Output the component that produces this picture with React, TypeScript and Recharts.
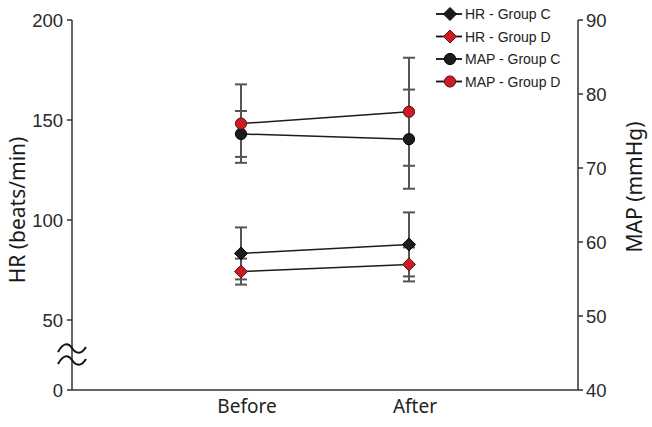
import { LineChart, Line, XAxis, YAxis, ErrorBar } from 'recharts';

const categories = ['Before', 'After'];
const hrGroupC = [83.3, 87.8];
const hrGroupCSd = [13, 16];
const hrGroupD = [74.2, 77.8];
const hrGroupDSd = [6.5, 8.5];
const mapGroupC = [74.6, 73.9];
const mapGroupCSd = [3.1, 6.7];
const mapGroupD = [76.0, 77.6];
const mapGroupDSd = [5.3, 7.3];

// left axis is broken between 0 and 50; the "0" tick sits at 15 on the linear scale
const hrTicks = [15, 50, 100, 150, 200];
const mapTicks = [40, 50, 60, 70, 80, 90];

const BLACK = '#1c1c1c';
const RED = '#cc1b24';
const RED_EDGE = '#5a1014';

const data = categories.map((name, i) => ({
  name,
  hrC: hrGroupC[i],
  hrCSd: hrGroupCSd[i],
  hrD: hrGroupD[i],
  hrDSd: hrGroupDSd[i],
  mapC: mapGroupC[i],
  mapCSd: mapGroupCSd[i],
  mapD: mapGroupD[i],
  mapDSd: mapGroupDSd[i],
}));

const legendItems = [
  { label: 'HR - Group C', shape: 'diamond', fill: BLACK, edge: '#000' },
  { label: 'HR - Group D', shape: 'diamond', fill: RED, edge: RED_EDGE },
  { label: 'MAP - Group C', shape: 'circle', fill: BLACK, edge: '#000' },
  { label: 'MAP - Group D', shape: 'circle', fill: RED, edge: RED_EDGE },
];

function Marker({ shape, cx, cy, fill, edge }: any) {
  if (shape === 'diamond') {
    const r = 6.5;
    return (
      <polygon
        points={`${cx},${cy - r} ${cx + r},${cy} ${cx},${cy + r} ${cx - r},${cy}`}
        fill={fill}
        stroke={edge}
        strokeWidth={1}
      />
    );
  }
  return <circle cx={cx} cy={cy} r={5.6} fill={fill} stroke={edge} strokeWidth={1} />;
}

const dotFor = (shape: string, fill: string, edge: string) => (p: any) => (
  <Marker key={`${shape}-${fill}-${p.index}`} shape={shape} cx={p.cx} cy={p.cy} fill={fill} edge={edge} />
);

function AxisTitle({ px, py, text }: any) {
  return (
    <text
      x={px}
      y={py}
      transform={`rotate(-90 ${px} ${py})`}
      textAnchor="middle"
      dominantBaseline="central"
      fontSize={21}
      fontFamily="'Noto Sans', sans-serif"
      fill="#1a1a1a"
    >
      {text}
    </text>
  );
}

export default function App() {
  const tickStyle = { fontSize: 18.5, fill: '#2a2a2a' };
  return (
    <div
      style={{
        position: 'absolute',
        left: 0,
        top: 0,
        width: 652,
        height: 427,
        background: '#fff',
        fontFamily: "'Liberation Sans', Arial, sans-serif",
      }}
    >
      <LineChart width={652} height={427} data={data} margin={{ top: 20, right: 14, bottom: 7, left: 12 }}>
        <XAxis
          dataKey="name"
          height={30}
          padding={{ left: 169, right: 169 }}
          tickLine={false}
          tickSize={0}
          tickMargin={10}
          axisLine={{ stroke: '#333', strokeWidth: 1.5 }}
          tick={{ fontSize: 19, fill: '#222', fontFamily: "'Noto Sans', sans-serif", dx: 6 }}
        />
        <YAxis
          yAxisId="hr"
          domain={[15, 200]}
          ticks={hrTicks}
          tickFormatter={(v: number) => (v === 15 ? '0' : String(v))}
          width={60}
          tickSize={5}
          tickMargin={4}
          allowDataOverflow
          axisLine={{ stroke: '#333', strokeWidth: 1.5 }}
          tickLine={{ stroke: '#333', strokeWidth: 1.5 }}
          tick={tickStyle}
          label={<AxisTitle px={17} py={210} text="HR (beats/min)" />}
        />
        <YAxis
          yAxisId="map"
          orientation="right"
          domain={[40, 90]}
          ticks={mapTicks}
          width={60}
          tickSize={5}
          tickMargin={3}
          axisLine={{ stroke: '#333', strokeWidth: 1.5 }}
          tickLine={{ stroke: '#333', strokeWidth: 1.5 }}
          tick={tickStyle}
          label={<AxisTitle px={634} py={187} text="MAP (mmHg)" />}
        />
        <Line
          yAxisId="map"
          dataKey="mapC"
          stroke={BLACK}
          strokeWidth={1.5}
          dot={dotFor('circle', BLACK, '#000')}
          isAnimationActive={false}
        >
          <ErrorBar dataKey="mapCSd" width={6} stroke="#555" strokeWidth={2} direction="y" />
        </Line>
        <Line
          yAxisId="map"
          dataKey="mapD"
          stroke={BLACK}
          strokeWidth={1.5}
          dot={dotFor('circle', RED, RED_EDGE)}
          isAnimationActive={false}
        >
          <ErrorBar dataKey="mapDSd" width={6} stroke="#555" strokeWidth={2} direction="y" />
        </Line>
        <Line
          yAxisId="hr"
          dataKey="hrC"
          stroke={BLACK}
          strokeWidth={1.5}
          dot={dotFor('diamond', BLACK, '#000')}
          isAnimationActive={false}
        >
          <ErrorBar dataKey="hrCSd" width={6} stroke="#555" strokeWidth={2} direction="y" />
        </Line>
        <Line
          yAxisId="hr"
          dataKey="hrD"
          stroke={BLACK}
          strokeWidth={1.5}
          dot={dotFor('diamond', RED, RED_EDGE)}
          isAnimationActive={false}
        >
          <ErrorBar dataKey="hrDSd" width={6} stroke="#555" strokeWidth={2} direction="y" />
        </Line>
      </LineChart>

      {/* axis break marks and legend */}
      <svg
        width={652}
        height={427}
        style={{ position: 'absolute', left: 0, top: 0, pointerEvents: 'none' }}
      >
        <g fill="none" stroke="#111" strokeWidth={2}>
          <path d="M58,352 C63,343 68,342 72,348 C76,354 81,355 86,347" />
          <path d="M58,364 C63,355 68,354 72,360 C76,366 81,367 86,359" />
        </g>
        {legendItems.map((item, i) => {
          const y = 14 + i * 22.5;
          return (
            <g key={item.label}>
              <line x1={436} x2={462} y1={y} y2={y} stroke="#111" strokeWidth={1.8} />
              <Marker shape={item.shape} cx={450} cy={y} fill={item.fill} edge={item.edge} />
              <text x={465} y={y + 5} fontSize={14} fill="#222">
                {item.label}
              </text>
            </g>
          );
        })}
      </svg>
    </div>
  );
}
